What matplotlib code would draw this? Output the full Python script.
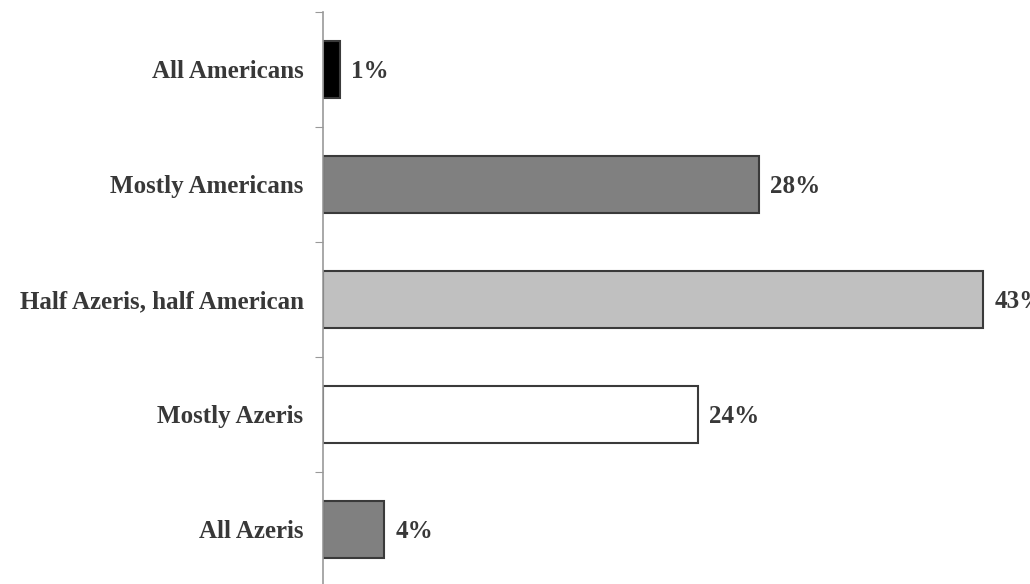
import matplotlib
matplotlib.use("Agg")
import matplotlib.pyplot as plt

categories = ["All Americans", "Mostly Americans", "Half Azeris, half American", "Mostly Azeris", "All Azeris"]
values = [1.1, 28.4, 43.0, 24.4, 4.0]
value_labels = ["1%", "28%", "43%", "24%", "4%"]
colors = ["#000000", "#808080", "#c0c0c0", "#ffffff", "#808080"]

plt.rcParams['font.family'] = ['Liberation Serif', 'DejaVu Serif']

fig = plt.figure(figsize=(10.30, 5.84), dpi=100)
ax = fig.add_axes([323/1030, -3/584, (1030-323)/1030, 575/584])

ypos = list(range(len(categories)))
ax.barh(ypos, values, height=0.5, color=colors, edgecolor="#3a3a3a", linewidth=1.5)
ax.set_ylim(len(categories) - 0.5, -0.5)
ax.set_xlim(0, 43.0 * (1030 - 323) / (983 - 323))

for y, v, lab in zip(ypos, values, value_labels):
    ax.text(v + 0.75, y + 0.02, lab, va="center", ha="left", fontsize=18, fontweight="bold", color="#383838")

ax.set_yticks([i - 0.5 for i in range(len(categories) + 1)])
ax.set_yticklabels([])
ax.set_yticks(ypos, minor=True)
ax.set_yticklabels(categories, minor=True, fontsize=18, fontweight="bold", color="#383838")
ax.tick_params(axis="y", which="minor", length=0, pad=14)
ax.tick_params(axis="y", which="major", length=6, color="#999999", direction="out")
ax.set_xticks([])
for s in ["top", "right", "bottom"]:
    ax.spines[s].set_visible(False)
ax.spines["left"].set_color("#999999")
ax.spines["left"].set_linewidth(1.2)

fig.savefig("out.png", dpi=100)
